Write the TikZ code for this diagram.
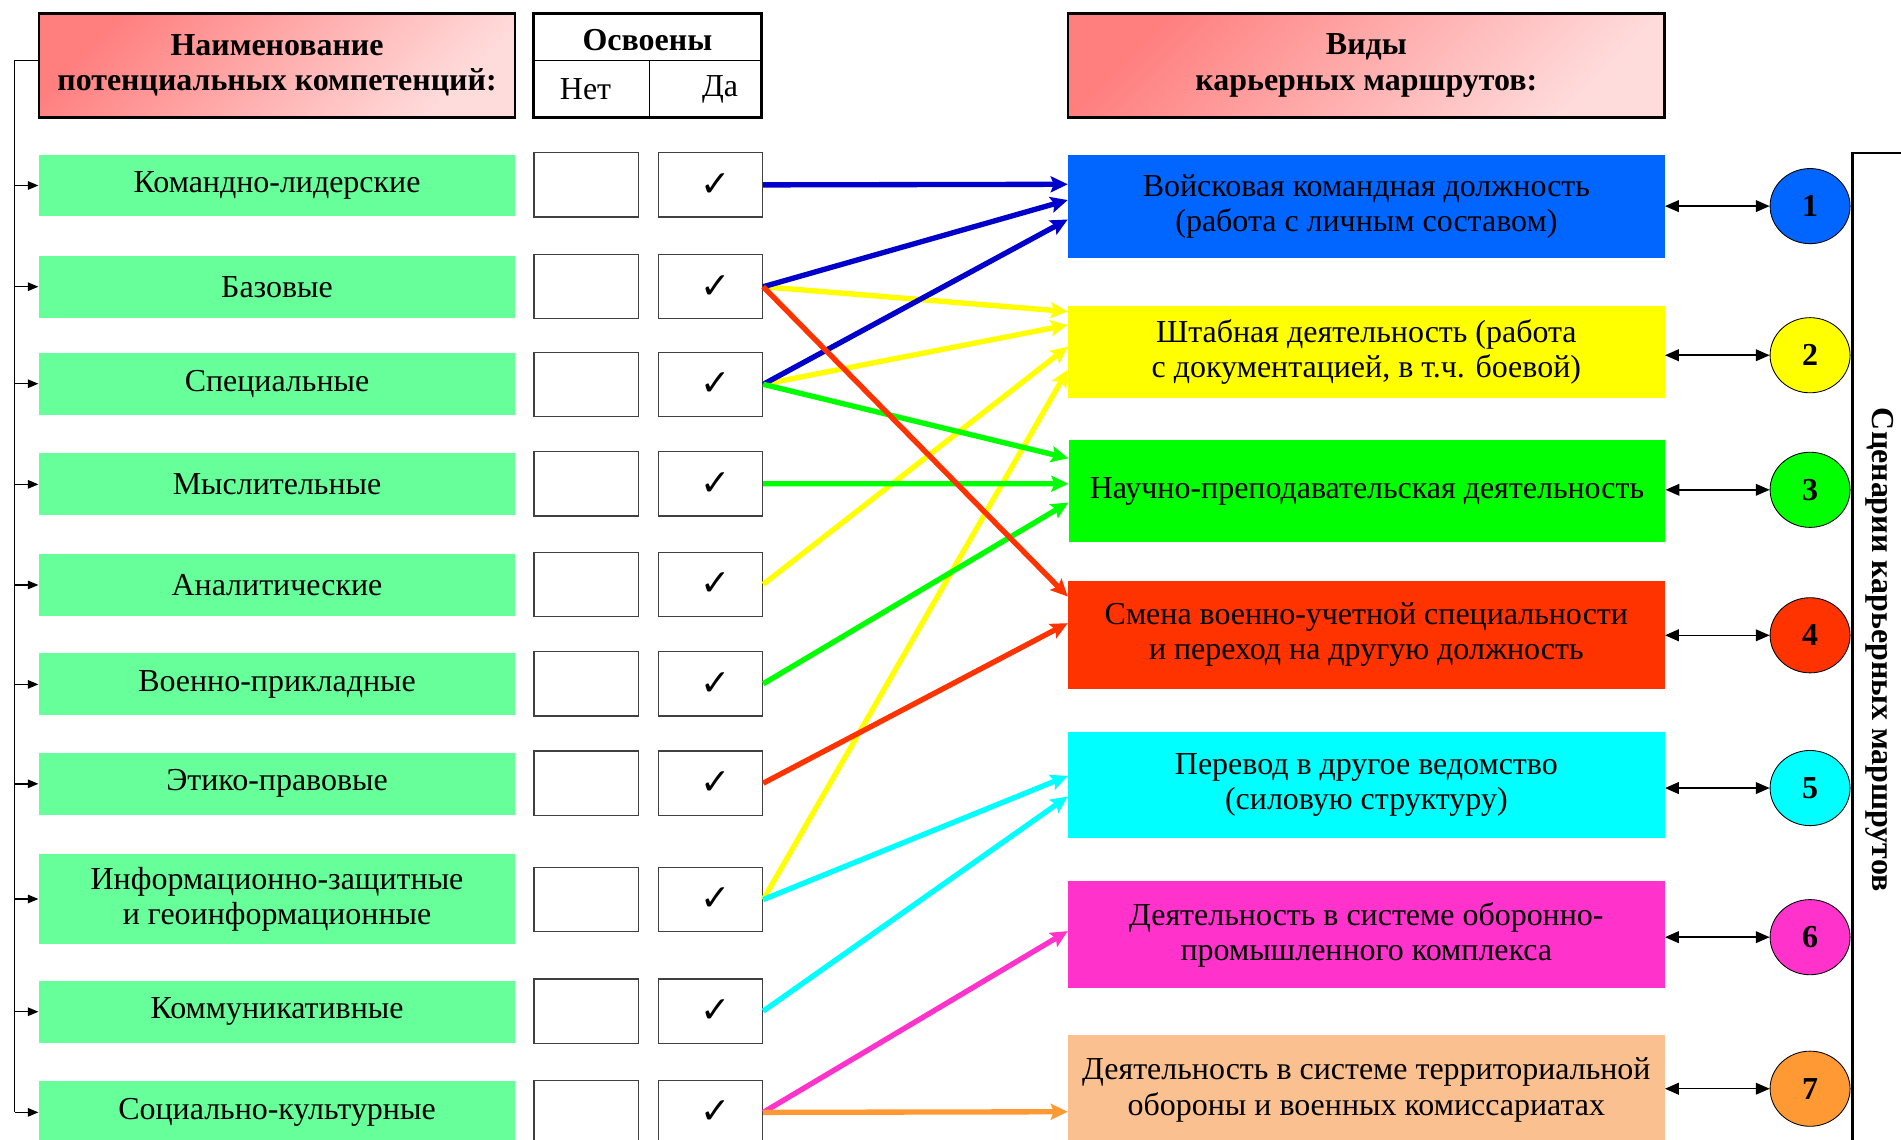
\documentclass[tikz,border=0pt]{standalone}
\usepackage{fontspec}
\setmainfont{Liberation Serif}
\newfontfamily\checkfont{DejaVu Sans}
\usetikzlibrary{shapes.geometric,arrows.meta}

\definecolor{headdark}{HTML}{FF7F7F}
\definecolor{headlight}{HTML}{FFDCDC}
\definecolor{compgreen}{HTML}{66FF99}
\definecolor{kblue}{HTML}{0066FF}
\definecolor{kyellow}{HTML}{FFFF00}
\definecolor{kgreen}{HTML}{00FF00}
\definecolor{kred}{HTML}{FF3300}
\definecolor{kcyan}{HTML}{00FFFF}
\definecolor{kpink}{HTML}{FF33CC}
\definecolor{kpeach}{HTML}{FAC090}
\definecolor{korange}{HTML}{FF9933}
\definecolor{adarkblue}{HTML}{0000CC}

\newcommand{\tickmark}{\hspace*{0.16cm}{\checkfont\fontsize{17}{17}\selectfont ✓}}

\begin{document}
\begin{tikzpicture}[x=0.02cm,y=-0.02cm,
  every node/.style={font=\fontsize{15}{16.5}\selectfont,inner sep=2pt},
  head/.style={draw,line width=1.1pt,top color=headdark,bottom color=headlight,shading angle=45,
    minimum width=#1,minimum height=1.72cm,align=center,font=\fontsize{15}{16.5}\selectfont\bfseries},
  comp/.style={fill=compgreen,minimum width=7.86cm,minimum height=#1,align=center},
  comp/.default=1.02cm,
  cell/.style={draw=black!75,line width=0.6pt,minimum width=1.72cm,minimum height=1.06cm},
  kind/.style={fill=#1,minimum width=9.84cm,align=center},
  scen/.style={ellipse,draw,fill=#1,minimum width=1.32cm,minimum height=1.24cm,inner sep=0pt,
    font=\fontsize{15}{16.5}\selectfont\bfseries},
  route/.style={draw=#1,line width=2.5pt,-{Stealth[length=8pt,width=7.5pt,inset=1.5pt]}},
  link/.style={line width=0.7pt,{Triangle[length=6.5pt,width=5.5pt]}-{Triangle[length=6.5pt,width=5.5pt]}},
  feed/.style={line width=0.7pt,-{Triangle[length=5pt,width=4pt]}}]

\useasboundingbox (0,0) rectangle (1568,940);
\clip (0,0) rectangle (1568,940);

% headers
\node[head=7.86cm] (lhead) at (228.5,54) {Наименование\\потенциальных компетенций:};
\node[draw,line width=1.1pt,minimum width=3.76cm,minimum height=1.72cm] (chk) at (534,54) {};
\node[font=\fontsize{15}{16.5}\selectfont\bfseries] (chkt) at (534,33) {Освоены};
\node (chkn) at (483,73.5) {Нет};
\node (chky) at (594,73.5) {Да};
\draw[line width=0.6pt] (chk.west |- 0,50) -- (chk.east |- 0,50);
\draw[line width=0.6pt] (536,50) -- (chk.south -| 536,0);
\node[head=9.84cm] (rhead) at (1127,54) {Виды\\карьерных маршрутов:};

% competences
\node[comp] (c1) at (228.5,153) {Командно-лидерские};
\node[comp] (c2) at (228.5,236.5) {Базовые};
\node[comp] (c3) at (228.5,316.5) {Специальные};
\node[comp] (c4) at (228.5,399.5) {Мыслительные};
\node[comp] (c5) at (228.5,482.5) {Аналитические};
\node[comp] (c6) at (228.5,564.5) {Военно-прикладные};
\node[comp] (c7) at (228.5,646.5) {Этико-правовые};
\node[comp=1.5cm] (c8) at (228.5,741.5) {Информационно-защитные\\и геоинформационные};
\node[comp] (c9) at (228.5,834.5) {Коммуникативные};
\node[comp] (c10) at (228.5,917.5) {Социально-культурные};

\node[cell] (n1) at (483.5,152.5) {};
\node[cell] (n2) at (483.5,236.5) {};
\node[cell] (n3) at (483.5,317) {};
\node[cell] (n4) at (483.5,399) {};
\node[cell] (n5) at (483.5,482) {};
\node[cell] (n6) at (483.5,564) {};
\node[cell] (n7) at (483.5,646) {};
\node[cell] (n8) at (483.5,742) {};
\node[cell] (n9) at (483.5,834) {};
\node[cell] (n10) at (483.5,917.5) {};

\node[cell] (y1) at (586,152.5) {\tickmark};
\node[cell] (y2) at (586,236.5) {\tickmark};
\node[cell] (y3) at (586,317) {\tickmark};
\node[cell] (y4) at (586,399) {\tickmark};
\node[cell] (y5) at (586,482) {\tickmark};
\node[cell] (y6) at (586,564) {\tickmark};
\node[cell] (y7) at (586,646) {\tickmark};
\node[cell] (y8) at (586,742) {\tickmark};
\node[cell] (y9) at (586,834) {\tickmark};
\node[cell] (y10) at (586,917.5) {\tickmark};

% career routes
\node[kind=kblue,minimum height=1.7cm] (r1) at (1127,170.5) {Войсковая командная должность\\(работа с личным составом)};
\node[kind=kyellow,minimum height=1.52cm] (r2) at (1127,290) {Штабная деятельность (работа\\с документацией, в т.ч. боевой)};
\node[kind=kgreen,minimum height=1.68cm] (r3) at (1127.5,405) {Научно-преподавательская деятельность};
\node[kind=kred,minimum height=1.78cm] (r4) at (1127,523.5) {Смена военно-учетной специальности\\и переход на другую должность};
\node[kind=kcyan,minimum height=1.74cm] (r5) at (1127,647.5) {Перевод в другое ведомство\\(силовую структуру)};
\node[kind=kpink,minimum height=1.76cm] (r6) at (1127,771) {Деятельность в системе оборонно-\\промышленного комплекса};
\node[kind=kpeach,minimum height=1.8cm] (r7) at (1127,899) {Деятельность в системе территориальной\\обороны и военных комиссариатах};

\node[scen=kblue] (s1) at (1493,170) {1};
\node[scen=kyellow] (s2) at (1493,293) {2};
\node[scen=kgreen] (s3) at (1493,404) {3};
\node[scen=kred] (s4) at (1493,524) {4};
\node[scen=kcyan] (s5) at (1493,650) {5};
\node[scen=kpink] (s6) at (1493,773) {6};
\node[scen=korange] (s7) at (1493,898) {7};

\node[draw,line width=1.1pt,rotate=-90,minimum width=16.4cm,minimum height=0.88cm,
  font=\fontsize{15}{16.5}\selectfont\bfseries] (scenario) at (1550,536) {Сценарии карьерных маршрутов};

\draw[link] (s1.west -| r1.east) -- (s1.west);
\draw[link] (s2.west -| r2.east) -- (s2.west);
\draw[link] (s3.west -| r3.east) -- (s3.west);
\draw[link] (s4.west -| r4.east) -- (s4.west);
\draw[link] (s5.west -| r5.east) -- (s5.west);
\draw[link] (s6.west -| r6.east) -- (s6.west);
\draw[link] (s7.west -| r7.east) -- (s7.west);

% left spine
\coordinate (spine) at (12,50);
\draw[line width=0.7pt] (spine -| lhead.west) -- (spine) -- (spine |- c10.west);
\draw[feed] (spine |- c1.west) -- (c1.west);
\draw[feed] (spine |- c2.west) -- (c2.west);
\draw[feed] (spine |- c3.west) -- (c3.west);
\draw[feed] (spine |- c4.west) -- (c4.west);
\draw[feed] (spine |- c5.west) -- (c5.west);
\draw[feed] (spine |- c6.west) -- (c6.west);
\draw[feed] (spine |- c7.west) -- (c7.west);
\draw[feed] (spine |- c8.west) -- (c8.west);
\draw[feed] (spine |- c9.west) -- (c9.west);
\draw[feed] (spine |- c10.west) -- (c10.west);

% competence -> route
\draw[route=kyellow] (y2.east) -- ([yshift=0.66cm]r2.west);
\draw[route=kyellow] (y3.east) -- ([yshift=0.44cm]r2.west);
\draw[route=kyellow] (y5.east) -- ([yshift=0.08cm]r2.west);
\draw[route=kyellow] (y8.east) -- ([yshift=-0.3cm]r2.west);
\draw[route=adarkblue] (y1.east) -- ([yshift=0.37cm]r1.west);
\draw[route=adarkblue] (y2.east) -- ([yshift=0.11cm]r1.west);
\draw[route=adarkblue] (y3.east) -- ([yshift=-0.21cm]r1.west);
\draw[route=kgreen] (y3.east) -- ([yshift=0.54cm]r3.west);
\draw[route=kgreen] (y4.east) -- ([yshift=0.12cm]r3.west);
\draw[route=kgreen] (y6.east) -- ([yshift=-0.19cm]r3.west);
\draw[route=kred] (y2.east) -- ([yshift=0.63cm]r4.west);
\draw[route=kred] (y7.east) -- ([yshift=0.19cm]r4.west);
\draw[route=kcyan] (y8.east) -- ([yshift=0.15cm]r5.west);
\draw[route=kcyan] (y9.east) -- ([yshift=-0.19cm]r5.west);
\draw[route=kpink] (y10.east) -- ([yshift=0.06cm]r6.west);
\draw[route=korange] (y10.east) -- ([yshift=-0.36cm]r7.west);

\end{tikzpicture}
\end{document}
